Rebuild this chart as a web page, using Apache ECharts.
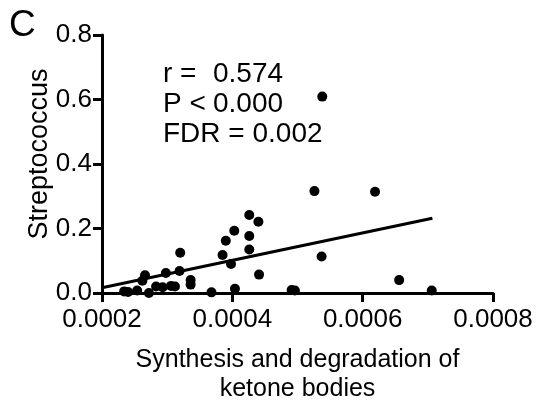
<!DOCTYPE html>
<html>
<head>
<meta charset="utf-8">
<script src="https://cdn.jsdelivr.net/npm/echarts@6/dist/echarts.min.js"></script>
<style>html,body{margin:0;padding:0;background:#fff;}#c{width:538px;height:402px;}</style>
</head>
<body>
<div id="c"></div>
<script>
var xValues = [0.000234,0.000240,0.000254,0.000262,0.000266,0.000272,0.000283,0.000293,0.000298,0.000306,0.000312,0.000319,0.000320,0.000336,0.000336,0.000368,0.000385,0.000390,0.000398,0.000403,0.000404,0.000426,0.000426,0.000426,0.000440,0.000441,0.000491,0.000496,0.000526,0.000537,0.000538,0.000619,0.000656,0.000706];
var yValues = [0.005,0.003,0.008,0.038,0.055,0.000,0.020,0.018,0.062,0.022,0.020,0.068,0.125,0.040,0.026,0.002,0.118,0.162,0.090,0.193,0.013,0.242,0.177,0.135,0.221,0.057,0.009,0.008,0.316,0.113,0.609,0.314,0.040,0.008];
var fitX = [0.0002, 0.000707];
var fitY = [0.016, 0.232];
var xTicks = [0.0002, 0.0004, 0.0006, 0.0008];
var yTicks = [0.0, 0.2, 0.4, 0.6, 0.8];
var xTitle = 'Synthesis and degradation of\nketone bodies';
var yTitle = 'Streptococcus';
var panelLabel = 'C';
var statLabels = ['r =', 'P <', 'FDR = 0.002'];
var statValues = ['0.574', '0.000', ''];

var pts = xValues.map(function(x, i){ return [x, yValues[i]]; });
var fit = fitX.map(function(x, i){ return [x, fitY[i]]; });
var FONT = 'Liberation Sans, Arial, sans-serif';

var chart = echarts.init(document.getElementById('c'), null, {renderer:'canvas'});
var graphics = [
  {type:'text', left: 9, top: 7, style:{text: panelLabel, font: '37px ' + FONT, fill:'#000'}},
  {type:'text', x: 40, y: 154, rotation: Math.PI/2, style:{text: yTitle, font: '27px ' + FONT, fill:'#000', align:'center', verticalAlign:'middle'}}
];
var rowsY = [60, 90, 120];
for (var i = 0; i < statLabels.length; i++) {
  graphics.push({type:'text', x: 163, y: rowsY[i], style:{text: statLabels[i], font:'28px ' + FONT, fill:'#000'}});
  if (statValues[i]) graphics.push({type:'text', x: 213, y: rowsY[i], style:{text: statValues[i], font:'28px ' + FONT, fill:'#000'}});
}
chart.setOption({
  animation: false,
  backgroundColor: '#fff',
  grid: {left: 102, right: 45, top: 35, bottom: 109, containLabel: false, outerBoundsMode: 'none'},
  xAxis: {
    type: 'value', min: xTicks[0], max: xTicks[xTicks.length-1], interval: 0.0002,
    axisLine: {show: true, lineStyle: {color:'#000', width: 3}},
    axisTick: {show: true, length: 9, lineStyle: {color:'#000', width: 3}},
    splitLine: {show: false},
    axisLabel: {color:'#000', fontFamily: FONT, fontSize: 26, margin: 14, formatter: function(v){ return v.toFixed(4); }},
    name: xTitle, nameLocation: 'middle', nameGap: 53,
    nameTextStyle: {color:'#000', fontFamily: FONT, fontSize: 25, lineHeight: 29}
  },
  yAxis: {
    type: 'value', min: yTicks[0], max: yTicks[yTicks.length-1], interval: 0.2,
    axisLine: {show: true, lineStyle: {color:'#000', width: 3}},
    axisTick: {show: true, length: 9, lineStyle: {color:'#000', width: 3}},
    splitLine: {show: false},
    axisLabel: {color:'#000', fontFamily: FONT, fontSize: 26, margin: 10, formatter: function(v){ return v.toFixed(1); }}
  },
  graphic: graphics,
  series: [
    {type:'scatter', data: pts, symbol:'circle', symbolSize: 10, itemStyle:{color:'#000', opacity: 1}, z: 3},
    {type:'line', data: fit, showSymbol: false, symbol:'none', lineStyle:{color:'#000', width: 3}, z: 4, clip: false}
  ]
});
</script>
</body>
</html>
